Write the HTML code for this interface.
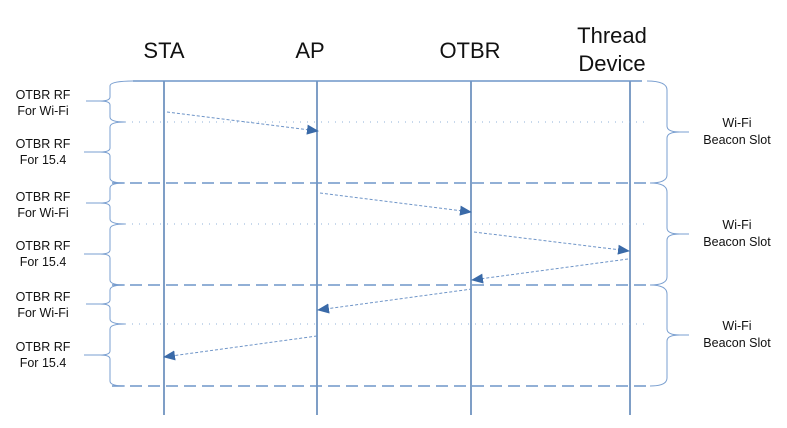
<!DOCTYPE html>
<html><head><meta charset="utf-8"><style>
html,body{margin:0;padding:0;background:#fff;}
svg{display:block;}
</style></head><body>
<svg width="787" height="428" viewBox="0 0 787 428" xmlns="http://www.w3.org/2000/svg" font-family="Liberation Sans, sans-serif">
<defs>
<marker id="ah" markerWidth="12" markerHeight="10" refX="11" refY="5" orient="auto" markerUnits="userSpaceOnUse">
<path d="M0,0 L12,5 L0,10 z" fill="#3a6aa8"/>
</marker>
</defs>
<g font-size="22" fill="#111" text-anchor="middle">
<text x="164" y="58">STA</text>
<text x="310" y="58">AP</text>
<text x="470" y="58">OTBR</text>
<text x="612" y="43">Thread</text>
<text x="612" y="71">Device</text>
</g>
<!-- lifelines -->
<g stroke="#3a6aa8" stroke-width="1.3">
<line x1="164" y1="81" x2="164" y2="415"/>
<line x1="317" y1="81" x2="317" y2="415"/>
<line x1="471" y1="81" x2="471" y2="415"/>
<line x1="630" y1="81" x2="630" y2="415"/>
</g>
<!-- top solid line -->
<line x1="133" y1="81" x2="642" y2="81" stroke="#6f95c8" stroke-width="1.5"/>
<!-- dashed -->
<g stroke="#6f95c8" stroke-width="1.5" stroke-dasharray="12,6">
<line x1="112" y1="183" x2="650" y2="183"/>
<line x1="112" y1="285" x2="650" y2="285"/>
<line x1="112" y1="386" x2="650" y2="386"/>
</g>
<!-- dotted -->
<g stroke="#8fb0d8" stroke-width="1" stroke-dasharray="1,6">
<line x1="125" y1="122" x2="645" y2="122"/>
<line x1="125" y1="224" x2="645" y2="224"/>
<line x1="125" y1="324" x2="645" y2="324"/>
</g>
<!-- left braces -->
<g fill="none" stroke="#7a9fd0" stroke-width="1">
<path d="M133,81 Q110,81 110,86 L110,97 Q110,101 100,101 L86,101 M100,101 Q110,101 110,105 L110,117 Q110,122 125,122"/>
<path d="M125,122 Q110,122 110,127 L110,148 Q110,152 100,152 L84,152 M100,152 Q110,152 110,156 L110,178 Q110,183 125,183"/>
<path d="M125,183 Q110,183 110,188 L110,199 Q110,203 100,203 L86,203 M100,203 Q110,203 110,207 L110,219 Q110,224 125,224"/>
<path d="M125,224 Q110,224 110,229 L110,250 Q110,254 100,254 L84,254 M100,254 Q110,254 110,258 L110,280 Q110,285 125,285"/>
<path d="M125,285 Q110,285 110,290 L110,300 Q110,304 100,304 L86,304 M100,304 Q110,304 110,308 L110,319 Q110,324 125,324"/>
<path d="M125,324 Q110,324 110,329 L110,351 Q110,355 100,355 L84,355 M100,355 Q110,355 110,359 L110,381 Q110,386 125,386"/>
</g>
<!-- right braces -->
<g fill="none" stroke="#7a9fd0" stroke-width="1">
<path d="M647,81 Q667,81 667,90 L667,126 Q667,132 680,132 L689,132 M680,132 Q667,132 667,138 L667,175 Q667,183 650,183"/>
<path d="M650,183 Q667,183 667,192 L667,228 Q667,234 680,234 L689,234 M680,234 Q667,234 667,240 L667,277 Q667,285 650,285"/>
<path d="M650,285 Q667,285 667,294 L667,329 Q667,335 680,335 L689,335 M680,335 Q667,335 667,341 L667,378 Q667,386 650,386"/>
</g>
<!-- arrows -->
<g stroke="#6f95c8" stroke-width="1" stroke-dasharray="3,2" marker-end="url(#ah)">
<line x1="167" y1="112" x2="318" y2="131"/>
<line x1="320" y1="193" x2="471" y2="212"/>
<line x1="474" y1="232" x2="629" y2="251"/>
<line x1="628" y1="259" x2="472" y2="280"/>
<line x1="472" y1="289" x2="318" y2="310"/>
<line x1="317" y1="336" x2="164" y2="357"/>
</g>
<!-- labels -->
<g font-size="12.5" fill="#111" text-anchor="middle">
<text x="43" y="99">OTBR RF</text><text x="43" y="115">For Wi-Fi</text>
<text x="43" y="148">OTBR RF</text><text x="43" y="164">For 15.4</text>
<text x="43" y="201">OTBR RF</text><text x="43" y="217">For Wi-Fi</text>
<text x="43" y="250">OTBR RF</text><text x="43" y="266">For 15.4</text>
<text x="43" y="301">OTBR RF</text><text x="43" y="317">For Wi-Fi</text>
<text x="43" y="351">OTBR RF</text><text x="43" y="367">For 15.4</text>
<text x="737" y="127">Wi-Fi</text><text x="737" y="144">Beacon Slot</text>
<text x="737" y="229">Wi-Fi</text><text x="737" y="246">Beacon Slot</text>
<text x="737" y="330">Wi-Fi</text><text x="737" y="347">Beacon Slot</text>
</g>
</svg>
</body></html>
